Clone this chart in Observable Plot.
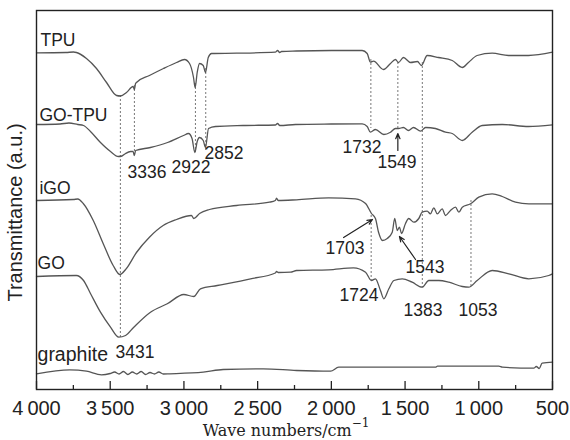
<!DOCTYPE html>
<html><head><meta charset="utf-8">
<script src="https://cdn.jsdelivr.net/npm/d3@7"></script>
<script src="https://cdn.jsdelivr.net/npm/@observablehq/plot@0.6"></script>
<style>body{margin:0;background:#fff}</style>
</head><body><div id="chart"></div>
<script>
// x ticks (wavenumber, cm^-1)
const tickValues = [4000, 3500, 3000, 2500, 2000, 1500, 1000, 500];
const tickLabels = ["4\u2009000", "3\u2009500", "3\u2009000", "2\u2009500", "2\u2009000", "1\u2009500", "1\u2009000", "500"];
const minorTicks = [3750, 3250, 2750, 2250, 1750, 1250, 750];
const xTitle = ["Wave numbers/cm"];
const xTitleSup = "\u22121";
const yTitle = ["Transmittance (a.u.)"];

// spectra: [wavenumber, transmittance (a.u., stacked)]
const tpu = [[4000,336.7],[3800,337],[3749,337.5],[3729,337],[3661,331],[3593,321],[3525,307],[3457,294],[3430,293.5],[3390,297],[3345,303],[3336,300],[3328,306],[3322,307],[3234,314],[3139,321],[3050,327],[2996,330],[2962,326],[2935,312],[2924,302],[2910,317],[2894,326],[2869,324],[2854,317],[2835,332],[2813,336],[2643,336.3],[2380,337.3],[2365,339],[2350,337],[2338,338],[2236,338.5],[2000,339],[1791,339],[1757,336],[1735,327.3],[1714,328.3],[1646,320],[1599,326],[1565,330],[1545,327],[1511,332],[1463,327],[1416,328],[1389,324],[1350,334],[1273,332],[1180,329],[1112,322],[1070,327],[1011,334],[909,336.3],[798,334],[663,334],[500,337.3]];
const goTpu = [[4000,265],[3840,265.5],[3780,266.5],[3720,265],[3681,264],[3634,258],[3566,247],[3498,238],[3444,233],[3420,233.5],[3396,236],[3362,238],[3345,238],[3336,234],[3328,239],[3227,242],[3111,247],[3003,254],[2969,256],[2945,251],[2926,237],[2910,248],[2894,252],[2869,249],[2854,242],[2833,261],[2786,263],[2600,264],[2380,264.5],[2365,266],[2350,264],[2243,265],[2000,265.5],[1791,265.7],[1757,263],[1735,257.3],[1701,260],[1644,255],[1599,257.3],[1565,261],[1545,261],[1511,262],[1477,259],[1443,262],[1395,258.3],[1361,262],[1294,261],[1226,257.3],[1180,256],[1112,249],[1045,257.3],[977,264],[841,265],[663,263],[500,264.7]];
const iGO = [[4000,189],[3750,190],[3720,190.5],[3683,186],[3615,169],[3548,146],[3480,124],[3435,115],[3390,121],[3322,137],[3234,152.3],[3141,164],[3050,170],[2949,174],[2933,171],[2894,176],[2827,180],[2643,184],[2420,187.3],[2380,189],[2372,191.3],[2360,189],[2236,189.7],[2019,191.7],[1836,190.7],[1768,186],[1728,176],[1701,171],[1680,157.3],[1653,149],[1621,151],[1587,157.3],[1570,171],[1553,159],[1538,162.3],[1524,156],[1497,166],[1475,171],[1441,167.3],[1407,171],[1384,177.3],[1350,178.3],[1328,175.7],[1305,181.7],[1282,175.7],[1248,180.7],[1226,174],[1192,179],[1158,182.3],[1135,177.3],[1112,182.3],[1056,185.7],[1000,192.3],[909,195.7],[841,193],[751,187.3],[661,185.7],[500,185.7]];
const go = [[4000,113],[3730,114],[3681,109],[3634,96],[3566,77.3],[3498,62.3],[3442,52.3],[3396,54],[3340,62.3],[3227,77.3],[3113,85.7],[3001,95],[2933,93],[2888,100.7],[2774,104],[2548,110.7],[2380,116.5],[2372,118],[2360,117],[2277,117.3],[2236,119],[2019,119.7],[1850,121.7],[1768,117.3],[1728,109],[1701,110.7],[1667,99],[1644,90.7],[1610,100.7],[1576,109],[1519,110.7],[1452,107.3],[1384,102.3],[1339,109],[1271,109],[1203,107.3],[1112,103],[1068,102.3],[1011,109],[909,119],[796,115.7],[661,110.7],[525,114],[500,115.7]];
const graphite = [[4000,15.7],[3774,19.7],[3661,18.3],[3559,14.7],[3500,16],[3470,17.5],[3440,15.5],[3410,18],[3380,15],[3350,17.5],[3320,15.5],[3290,18],[3260,15],[3230,17],[3200,15.5],[3170,17.5],[3140,15.5],[3096,15.7],[2869,17.3],[2734,20],[2462,20.7],[2236,19],[2005,18.3],[1950,22.3],[1294,22.3],[1280,23.3],[864,23.3],[840,22.3],[627,21.3],[610,23],[590,21],[570,26.3],[500,27.3]];

// sample names: [label, wavenumber, level]
const sampleLabels = [["TPU",3973,344],["GO-TPU",3980,269],["iGO",3980,196],["GO",3993,121]];
const graphiteLabel = [["graphite",3993,29]];
// peak labels: [text, wavenumber, level]
const peakLabels = [["3336",3383,212],["2922",3084,217],["2852",2860,231],["1732",1924,237],["1549",1687,222],["1703",2040,136],["1543",1497,117],["1724",1945,89],["1383",1511,74],["1053",1138,74],["3431",3464,32]];
// dotted guide lines: [wavenumber, from, to]
const guides = [[3431,294,52],[3336,304,232],[2922,306,237],[2852,321,239],[1732,330,261],[1549,327,261],[1383,327,102],[1730,174,109],[1053,189,102]];
// arrows: [w1, t1, w2, t2]
const arrows = [[1549,239,1549,256],[1917,152,1721,170],[1429,130,1538,153]];

const series = [["TPU",tpu],["GO-TPU",goTpu],["iGO",iGO],["GO",go],["graphite",graphite]]
  .flatMap(([name, pts]) => pts.map(([w, t]) => ({name, w, t})));

const ink = "#222";
const plot = Plot.plot({
  width: 570, height: 440,
  marginLeft: 36, marginRight: 18, marginTop: 10, marginBottom: 51,
  x: {domain: [4000, 500], axis: null},
  y: {domain: [0, 379], axis: null},
  style: {fontFamily: "'Liberation Sans', Arial, sans-serif", color: ink, background: "#fff"},
  marks: [
    Plot.ruleX(guides, {x: d => d[0], y1: d => d[1], y2: d => d[2], stroke: "#777", strokeWidth: 1, strokeDasharray: "2,2"}),
    Plot.line(series, {x: "w", y: "t", z: "name", stroke: "#555", strokeWidth: 1.3, curve: "monotone-x"}),
    Plot.arrow(arrows, {x1: d => d[0], y1: d => d[1], x2: d => d[2], y2: d => d[3], stroke: ink, strokeWidth: 1.2, headLength: 7, headAngle: 45}),
    Plot.ruleX(tickValues, {x: d => d, y1: 0, y2: 8, stroke: ink, strokeWidth: 1.3}),
    Plot.ruleX(minorTicks, {x: d => d, y1: 0, y2: 4, stroke: ink, strokeWidth: 1.3}),
    Plot.frame({stroke: ink, strokeWidth: 1.4}),
    Plot.axisX({ticks: tickValues, tickFormat: d => tickLabels[tickValues.indexOf(d)], tickSize: 0, tickPadding: 11, fontSize: 20, label: null, fill: ink}),
    Plot.text(sampleLabels, {x: d => d[1], y: d => d[2], text: d => d[0], textAnchor: "start", lineAnchor: "bottom", fontSize: 17.5, fill: ink}),
    Plot.text(graphiteLabel, {x: d => d[1], y: d => d[2], text: d => d[0], textAnchor: "start", lineAnchor: "bottom", fontSize: 19.5, fill: ink}),
    Plot.text(peakLabels, {x: d => d[1], y: d => d[2], text: d => d[0], textAnchor: "start", lineAnchor: "bottom", fontSize: 17.5, fill: ink}),
    Plot.text(yTitle, {frameAnchor: "left", dx: -20.5, dy: 12.5, rotate: -90, textAnchor: "middle", lineAnchor: "middle", fontSize: 20, fill: ink}),
    Plot.text(xTitle, {frameAnchor: "bottom", dx: -8.5, dy: 46, textAnchor: "middle", lineAnchor: "bottom", fontSize: 16, fontFamily: "'DejaVu Serif', serif", fill: ink})
  ]
});
d3.select(plot).selectAll("text").filter(function() { return this.textContent === xTitle[0]; })
  .append("tspan").attr("dy", "-0.7em").attr("font-size", 12).text(xTitleSup);
document.getElementById("chart").appendChild(plot);
</script>
</body></html>
